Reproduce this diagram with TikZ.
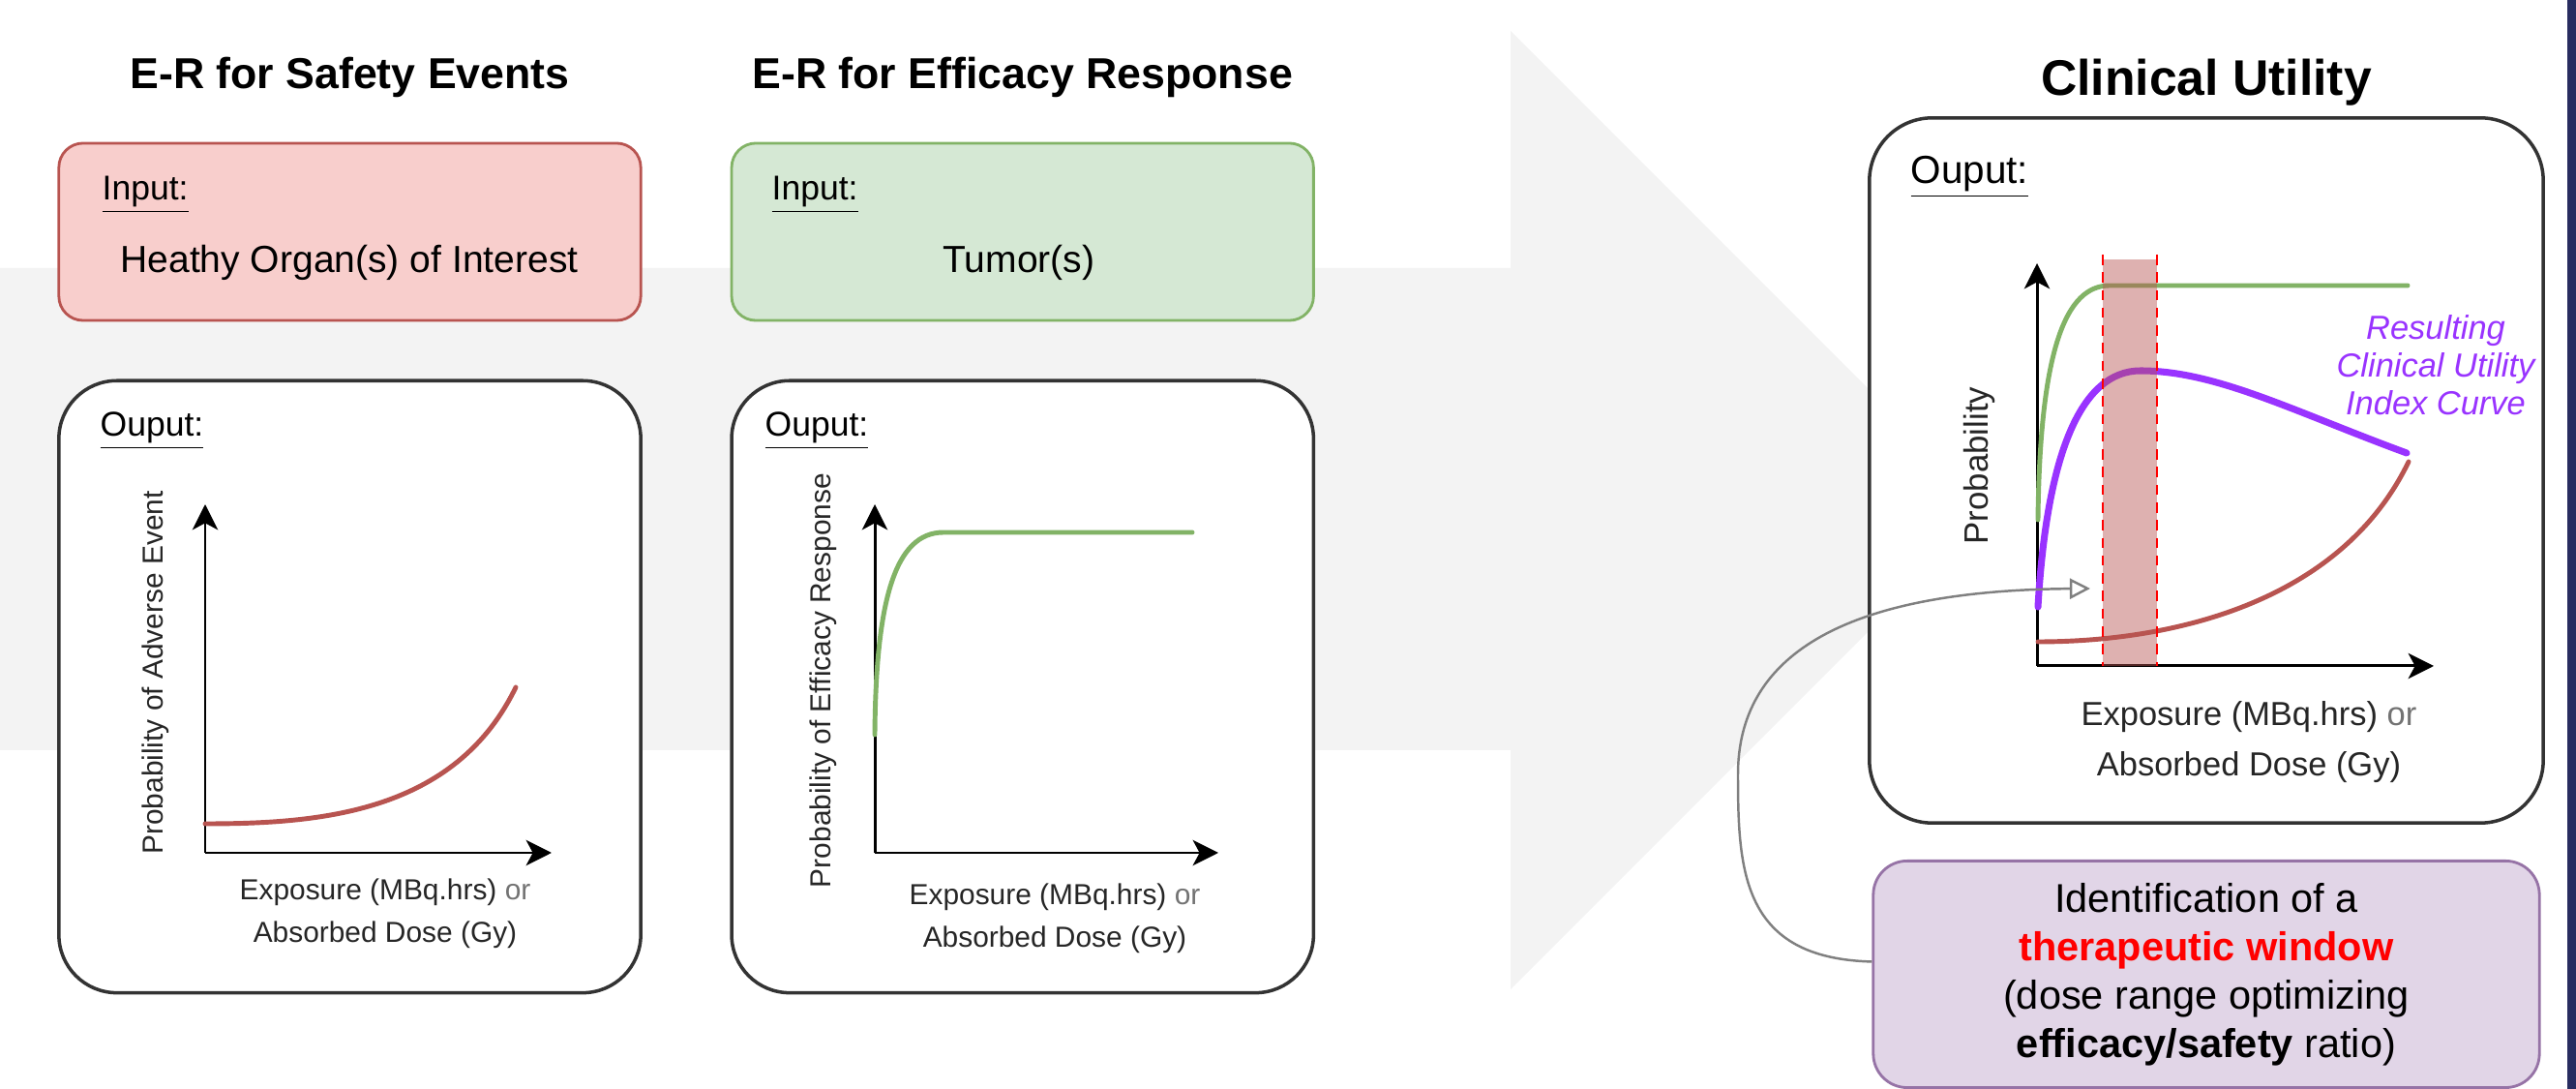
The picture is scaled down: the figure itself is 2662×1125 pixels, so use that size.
\documentclass[tikz,border=0pt]{standalone}
\usepackage{fontspec}
\setmainfont{Liberation Sans}
\usepackage{xcolor}
\usepackage{tikz}
\usetikzlibrary{shapes,arrows.meta,positioning}

\definecolor{bggrey}{RGB}{243,243,243}
\definecolor{inred}{HTML}{F8CECC}
\definecolor{inredline}{HTML}{B85450}
\definecolor{ingreen}{HTML}{D5E8D4}
\definecolor{ingreenline}{HTML}{82B366}
\definecolor{purplefill}{HTML}{E1D5E7}
\definecolor{purpleline}{HTML}{9673A6}
\definecolor{utilpurple}{RGB}{153,51,255}
\definecolor{linkgrey}{RGB}{128,128,128}
\definecolor{edgebar}{RGB}{40,44,96}

\begin{document}
\begin{tikzpicture}[x=0.01cm, y=-0.01cm]
    % Styles
    \tikzstyle{headline} = [inner sep=0pt, font=\fontsize{12.7}{15}\selectfont\bfseries]
    \tikzstyle{inbox} = [rectangle, draw, line width=0.8pt, rounded corners=0.25cm, minimum width=6.01cm, minimum height=1.83cm]
    \tikzstyle{outbox} = [rectangle, draw=black!80, fill=white, line width=1pt, rounded corners=0.6cm]
    \tikzstyle{tag} = [inner sep=0pt, anchor=west, font=\fontsize{10.1}{12}\selectfont]
    \tikzstyle{boxtext} = [inner sep=0pt, font=\fontsize{11.1}{13}\selectfont]
    \tikzstyle{axisline} = [line width=0.85pt, -{Stealth[length=7.5pt,width=7.5pt,inset=2pt]}]
    \tikzstyle{axislabel} = [inner sep=0pt, text=black!85, align=center, font=\fontsize{8.5}{12.5}\selectfont]
    \tikzstyle{curve} = [line width=1.4pt, line cap=round]
    \tikzstyle{winline} = [red, line width=0.6pt, dash pattern=on 3pt off 2.2pt]
    \tikzstyle{linkline} = [draw=linkgrey, line width=0.7pt, -{Triangle[open, length=6pt, width=6pt, fill=white]}]

    \useasboundingbox (0,0) rectangle (2662,1125);

    % Background arrow
    \fill[bggrey] (0,277) -- (1561,277) -- (1561,32) -- (2056,527) -- (1561,1022) -- (1561,775) -- (0,775) -- cycle;
    \fill[edgebar] (2653,0) rectangle (2662,1125);

    % Nodes
    \node [inbox, fill=inred, draw=inredline] (safein) at (361.5,239.5) {};
    \node [inbox, fill=ingreen, draw=ingreenline, right=0.91cm of safein] (effin) {};
    \node [outbox, minimum width=6.01cm, minimum height=6.32cm, below=0.59cm of safein] (safeout) {};
    \node [outbox, minimum width=6.01cm, minimum height=6.32cm, below=0.59cm of effin] (effout) {};
    \node [headline, above=0.45cm of safein] (safetitle) {E-R for Safety Events};
    \node [headline, above=0.45cm of effin] (efftitle) {E-R for Efficacy Response};

    \node [tag] (safetag) at (105,201) {\underline{Input:}};
    \node [tag] (efftag) at (797,201) {\underline{Input:}};
    \node [boxtext] (organ) at (361,271) {Heathy Organ(s) of Interest};
    \node [boxtext] (tumor) at (1053,271) {Tumor(s)};
    \node [tag] (safeouttag) at (103,445) {\underline{Ouput:}};
    \node [tag] (effouttag) at (790,445) {\underline{Ouput:}};

    \node [outbox, minimum width=6.96cm, minimum height=7.28cm, rounded corners=0.65cm] (clinbox) at (2280,486) {};
    \node [headline, font=\fontsize{14.7}{17}\selectfont\bfseries, above=0.1cm of clinbox] (clintitle) {Clinical Utility};
    \node [tag, font=\fontsize{11.5}{13}\selectfont] (clintag) at (1974,183) {\underline{Ouput:}};
    \node [rectangle, draw=purpleline, fill=purplefill, line width=0.8pt, rounded corners=0.35cm, minimum width=6.88cm, minimum height=2.34cm, align=center, font=\fontsize{11.8}{14.2}\selectfont, below=0.36cm of clinbox] (ident) {Identification of a\\\textcolor{red}{\textbf{therapeutic window}}\\(dose range optimizing\\\textbf{efficacy/safety} ratio)};

    % Safety chart
    \draw [axisline] (212,881) -- (212,521);
    \draw [axisline] (212,881) -- (570,881);
    \draw [curve, inredline] (212,851) .. controls (330,851) and (470,840) .. (533,710);
    \node [axislabel, rotate=90] (safey) at (161,695) {Probability of Adverse Event};
    \node [axislabel] (safex) at (398,944) {Exposure (MBq.hrs) \textcolor{black!55}{or}\\Absorbed Dose (Gy)};

    % Efficacy chart
    \draw [axisline] (904,881) -- (904,521);
    \draw [axisline] (904,881) -- (1259,881);
    \draw [curve, ingreenline] (904,759) .. controls (905,620) and (925,550) .. (975,550) -- (1232,550);
    \node [axislabel, rotate=90] (effy) at (851,703) {Probability of Efficacy Response};
    \node [axislabel] (effx) at (1090,949) {Exposure (MBq.hrs) \textcolor{black!55}{or}\\Absorbed Dose (Gy)};

    % Clinical utility chart
    \draw [axisline] (2105,688) -- (2105,272);
    \draw [axisline] (2105,688) -- (2515,688);
    \draw [curve, ingreenline] (2106,537) .. controls (2108,360) and (2135,295) .. (2180,295) -- (2488,295);
    \draw [curve, inredline] (2106,663) .. controls (2250,663) and (2420,620) .. (2489,477);
    \draw [curve, utilpurple, line width=2pt] (2106,627) .. controls (2115,470) and (2150,383) .. (2212,383) .. controls (2290,383) and (2370,425) .. (2487,468);
    \fill [inredline, fill opacity=0.45] (2173,268) rectangle (2229,688);
    \draw [winline] (2173,263) -- (2173,688);
    \draw [winline] (2229,263) -- (2229,688);
    \node [axislabel, font=\fontsize{9.9}{12}\selectfont, rotate=90] (clinx) at (2045,481) {Probability};
    \node [axislabel, font=\fontsize{9.8}{14.8}\selectfont] (cliny) at (2324,767) {Exposure (MBq.hrs) \textcolor{black!55}{or}\\Absorbed Dose (Gy)};
    \node [inner sep=0pt, align=center, text=utilpurple, font=\fontsize{9.8}{11.1}\selectfont\itshape] (utilnote) at (2517,377) {Resulting\\Clinical Utility\\Index Curve};

    % Edges
    \coordinate (wintip) at (2160,608);
    \draw [linkline] ([yshift=0.13cm]ident.west) .. controls (1800,990) and (1796,900) .. (1796,800) .. controls (1796,680) and (1900,610) .. (wintip);
\end{tikzpicture}
\end{document}
